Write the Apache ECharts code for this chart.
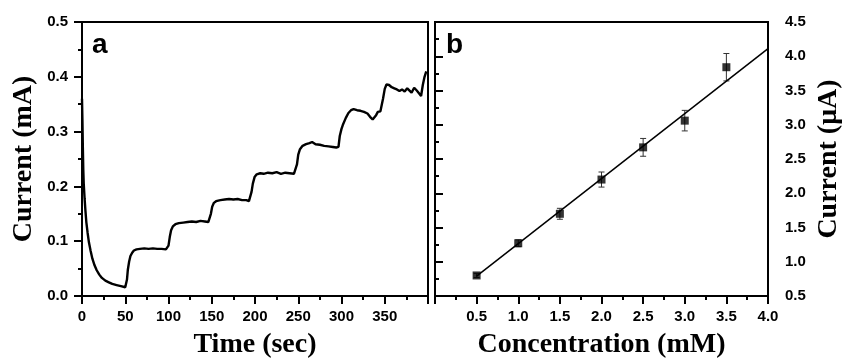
<!DOCTYPE html>
<html>
<head>
<meta charset="utf-8">
<script src="https://cdn.jsdelivr.net/npm/echarts@6/dist/echarts.min.js"></script>
<style>
html, body { margin: 0; padding: 0; background: #fff; }
#chart { width: 843px; height: 358px; }
</style>
</head>
<body>
<div id="chart"></div>
<script>
// panel a: amperometric response
const timeSec = [
    0, 0.5, 1, 1.5, 2, 3, 4, 5, 6.5, 8, 10, 12, 14.5, 17, 20, 23, 27, 31, 35, 40, 45, 50, 51.5,
    52, 53, 54.5, 56, 58, 60, 63, 67, 72, 77, 82, 87, 92, 97, 99,
    100, 101.5, 103, 105, 108, 112, 117, 122, 127, 132, 137, 142, 146, 148,
    149, 150.5, 152.5, 155, 160, 165, 170, 175, 180, 185, 190, 193, 195,
    196, 197.5, 199.5, 202, 206, 210, 215, 220, 225, 230, 235, 240, 245, 247,
    248.5, 250, 252, 255, 259, 263, 266, 270, 275, 280, 285, 290, 294, 296.5,
    298, 300, 301.5, 303, 305, 308, 311, 314, 318, 322, 326, 330, 333, 336, 338, 340, 342, 345, 347,
    348, 350, 352, 355, 358, 361, 364, 367, 370, 373, 376, 378, 381, 384, 387, 390, 392, 394, 396, 398
];
const currentMA = [
    0.36, 0.32, 0.27, 0.23, 0.205, 0.178, 0.155, 0.135, 0.115, 0.098, 0.082, 0.068, 0.056, 0.047, 0.039, 0.033, 0.028, 0.025, 0.022, 0.020, 0.018, 0.016, 0.017,
    0.03, 0.048, 0.063, 0.073, 0.079, 0.083, 0.085, 0.086, 0.087, 0.086, 0.087, 0.086, 0.086, 0.085, 0.084,
    0.092, 0.108, 0.12, 0.127, 0.131, 0.133, 0.134, 0.135, 0.136, 0.135, 0.137, 0.136, 0.135, 0.137,
    0.15, 0.163, 0.17, 0.173, 0.175, 0.176, 0.177, 0.176, 0.177, 0.175, 0.175, 0.173, 0.176,
    0.19, 0.205, 0.217, 0.222, 0.224, 0.223, 0.225, 0.224, 0.226, 0.223, 0.225, 0.224, 0.223, 0.222,
    0.24, 0.258, 0.268, 0.274, 0.277, 0.279, 0.281, 0.277, 0.276, 0.274, 0.273, 0.272, 0.271, 0.272,
    0.292, 0.305, 0.312, 0.311, 0.325, 0.334, 0.339, 0.341, 0.339, 0.338, 0.336, 0.333, 0.327, 0.322, 0.321, 0.33, 0.336, 0.337, 0.34,
    0.36, 0.378, 0.386, 0.385, 0.381, 0.379, 0.377, 0.374, 0.377, 0.373, 0.379, 0.381, 0.371, 0.38, 0.375, 0.369, 0.365, 0.385, 0.4, 0.41
];

// panel b: calibration
const concMM = [0.5, 1.0, 1.5, 2.0, 2.5, 3.0, 3.5];
const currentUA = [0.80, 1.27, 1.70, 2.20, 2.67, 3.06, 3.84];
const errorUA = [0.03, 0.05, 0.08, 0.11, 0.13, 0.15, 0.2];
const fitX = [0.5, 4.0];
const fitY = [0.79, 4.11];

const black = '#000';
const tickFont = { color: black, fontSize: 15, fontWeight: 'bold', fontFamily: 'Liberation Sans' };
const nameFont = { color: black, fontSize: 28, fontWeight: 'bold', fontFamily: 'Liberation Serif' };

function axisCommon() {
    return {
        type: 'value',
        axisLine: { show: true, lineStyle: { color: black, width: 2 } },
        axisTick: { show: true, inside: false, length: 8, lineStyle: { color: black, width: 2 } },
        minorTick: { show: true, splitNumber: 2, length: 4, lineStyle: { color: black, width: 2 } },
        splitLine: { show: false },
        nameLocation: 'middle',
        nameTextStyle: nameFont
    };
}

const chart = echarts.init(document.getElementById('chart'));

const option = {
    animation: false,
    backgroundColor: '#fff',
    grid: [
        { left: 82, top: 22, width: 346, height: 274, show: true, borderColor: black, borderWidth: 2, containLabel: false, outerBoundsMode: 'none' },
        { left: 435, top: 22, width: 333, height: 274, show: true, borderColor: black, borderWidth: 2, containLabel: false, outerBoundsMode: 'none' }
    ],
    graphic: [
        { type: 'text', left: 92, top: 31, style: { text: 'a', fontSize: 28, fontWeight: 'bold', fontFamily: 'Liberation Sans', fill: black } },
        { type: 'text', left: 446, top: 31, style: { text: 'b', fontSize: 28, fontWeight: 'bold', fontFamily: 'Liberation Sans', fill: black } }
    ],
    xAxis: [
        Object.assign(axisCommon(), {
            gridIndex: 0, min: 0, max: 400, interval: 50,
            name: 'Time (sec)', nameGap: 35,
            axisLabel: Object.assign({ margin: 13, showMaxLabel: false }, tickFont)
        }),
        Object.assign(axisCommon(), {
            gridIndex: 1, min: 0, max: 4, interval: 0.5,
            name: 'Concentration (mM)', nameGap: 35,
            axisLabel: Object.assign({ margin: 13, showMinLabel: false, formatter: v => v.toFixed(1) }, tickFont)
        })
    ],
    yAxis: [
        Object.assign(axisCommon(), {
            gridIndex: 0, min: 0, max: 0.5, interval: 0.1,
            name: 'Current (mA)', nameGap: 44, nameRotate: 90,
            axisLabel: Object.assign({ margin: 14, formatter: v => v.toFixed(1) }, tickFont)
        }),
        Object.assign(axisCommon(), {
            gridIndex: 1, position: 'right', min: 0.5, max: 4.5, interval: 0.5,
            name: 'Current (\u03bcA)', nameGap: 47, nameRotate: 90,
            axisLabel: Object.assign({ margin: 17, formatter: v => v.toFixed(1) }, tickFont)
        })
    ],
    series: [
        {
            type: 'line',
            xAxisIndex: 0, yAxisIndex: 0,
            data: timeSec.map((t, i) => [t, currentMA[i]]),
            showSymbol: false,
            lineStyle: { color: black, width: 2.4 }
        },
        {
            type: 'line',
            xAxisIndex: 1, yAxisIndex: 1,
            data: fitX.map((x, i) => [x, fitY[i]]),
            showSymbol: false,
            lineStyle: { color: black, width: 1.5 }
        },
        {
            type: 'custom',
            xAxisIndex: 1, yAxisIndex: 1,
            data: concMM.map((c, i) => [c, currentUA[i] - errorUA[i], currentUA[i] + errorUA[i]]),
            renderItem: function (params, api) {
                const lo = api.coord([api.value(0), api.value(1)]);
                const hi = api.coord([api.value(0), api.value(2)]);
                const cap = 3;
                const style = { stroke: '#333', lineWidth: 1 };
                return {
                    type: 'group',
                    children: [
                        { type: 'line', shape: { x1: lo[0], y1: lo[1], x2: hi[0], y2: hi[1] }, style: style },
                        { type: 'line', shape: { x1: lo[0] - cap, y1: lo[1], x2: lo[0] + cap, y2: lo[1] }, style: style },
                        { type: 'line', shape: { x1: hi[0] - cap, y1: hi[1], x2: hi[0] + cap, y2: hi[1] }, style: style }
                    ]
                };
            },
            z: 3
        },
        {
            type: 'scatter',
            xAxisIndex: 1, yAxisIndex: 1,
            data: concMM.map((c, i) => [c, currentUA[i]]),
            symbol: 'rect',
            symbolSize: 8,
            itemStyle: { color: black },
            z: 4
        }
    ]
};

chart.setOption(option);
</script>
</body>
</html>
